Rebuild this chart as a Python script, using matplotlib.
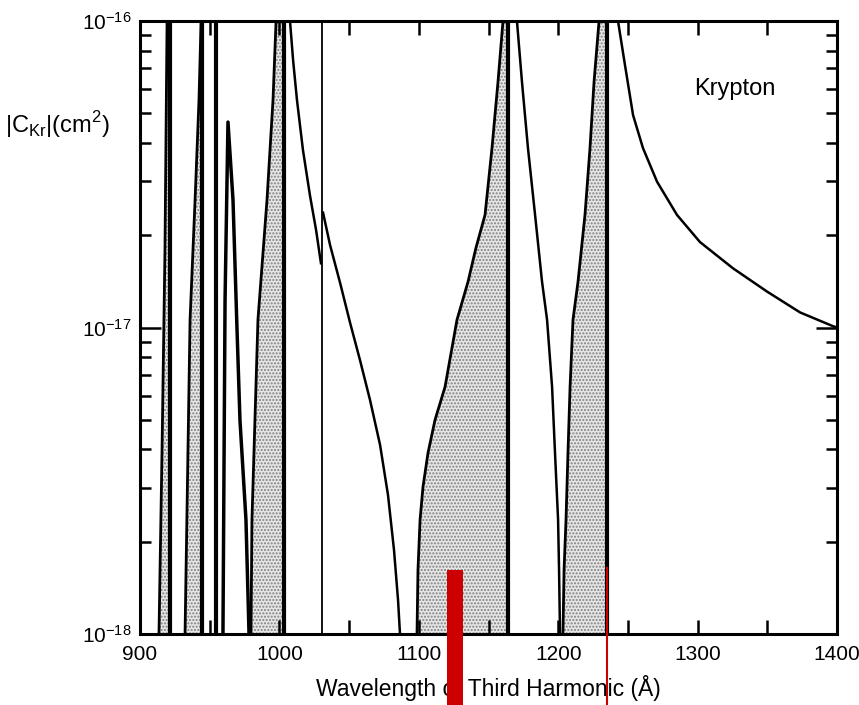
import matplotlib
matplotlib.use("Agg")
import matplotlib.pyplot as plt
from matplotlib.ticker import LogLocator, MultipleLocator, NullFormatter
import matplotlib.transforms as mtransforms

plt.rcParams['font.family'] = ['Liberation Sans', 'DejaVu Sans']
plt.rcParams['mathtext.fontset'] = 'custom'
plt.rcParams['mathtext.rm'] = 'Liberation Sans'

# rising edges of the shaded (negative) bands: wavelength (A), |C| (cm^2)
band1_wl = [913.6, 915.8, 917.9, 919.4]
band1_c = [1.0e-18, 3.98e-18, 1.79e-17, 1.0e-16]
band1_edge = 921.5

band2_wl = [932.3, 935.9, 939.5, 942.3, 943.8]
band2_c = [1.0e-18, 1.06e-17, 2.61e-17, 5.52e-17, 1.0e-16]
band2_edge = 944.5

band3_wl = [979.6, 980.3, 984.6, 991.1, 995.4, 997.6]
band3_c = [1.0e-18, 2.36e-18, 1.06e-17, 2.61e-17, 5.52e-17, 1.0e-16]
band3_edge = 1003.3

band4_wl = [1098.7, 1099.4, 1100.9, 1103.0, 1106.6, 1111.6, 1118.8, 1127.4, 1135.3, 1141.0,
            1147.5, 1152.5, 1156.8, 1160.4]
band4_c = [1.0e-18, 1.62e-18, 2.36e-18, 3.02e-18, 3.90e-18, 4.99e-18, 6.40e-18, 1.06e-17,
           1.41e-17, 1.82e-17, 2.33e-17, 3.85e-17, 6.33e-17, 1.0e-16]
band4_edge = 1164.0

band5_wl = [1203.4, 1204.2, 1205.6, 1207.0, 1208.5, 1210.6, 1214.2, 1219.2, 1222.8, 1225.7, 1229.3]
band5_c = [1.0e-18, 1.62e-18, 2.36e-18, 3.90e-18, 6.40e-18, 1.06e-17, 1.41e-17, 2.33e-17,
           3.85e-17, 6.33e-17, 1.0e-16]
band5_edge = 1235.0

# unshaded branches
spike_wl = [959.5, 961.0, 963.1, 966.7, 969.6, 971.7, 976.0, 978.2]
spike_c = [1.0e-18, 1.23e-17, 4.68e-17, 2.61e-17, 9.8e-18, 4.99e-18, 2.36e-18, 1.0e-18]

tail1_wl = [1007.6, 1009.8, 1012.6, 1016.9, 1021.9, 1026.3, 1029.8]
tail1_c = [1.0e-16, 7.46e-17, 5.52e-17, 3.79e-17, 2.70e-17, 2.08e-17, 1.62e-17]

tail2_wl = [1031.3, 1036.3, 1043.5, 1050.6, 1057.8, 1065.0, 1072.2, 1077.9, 1082.2, 1085.1, 1086.5]
tail2_c = [2.37e-17, 1.86e-17, 1.40e-17, 1.04e-17, 7.83e-18, 5.80e-18, 4.14e-18, 2.84e-18,
           1.88e-18, 1.29e-18, 1.0e-18]

tail3_wl = [1170.4, 1174.0, 1178.3, 1183.4, 1188.4, 1192.0, 1195.6, 1197.7, 1199.9, 1200.6, 1201.3]
tail3_c = [1.0e-16, 6.33e-17, 3.85e-17, 2.33e-17, 1.41e-17, 1.06e-17, 6.40e-18, 3.90e-18,
           2.36e-18, 1.62e-18, 1.0e-18]

tail4_wl = [1242.9, 1247.9, 1253.7, 1260.8, 1270.9, 1285.2, 1301.7, 1325.4, 1349.8, 1373.5,
            1397.1, 1400.0]
tail4_c = [1.0e-16, 7.18e-17, 4.93e-17, 3.85e-17, 2.99e-17, 2.33e-17, 1.90e-17, 1.56e-17,
           1.31e-17, 1.12e-17, 1.01e-17, 1.0e-17]

# resonance positions drawn as full-height lines
resonances = [921.5, 944.5, 954.5, 1003.3, 1164.0, 1235.0]
weak_resonance = 1030.6

fig = plt.figure(figsize=(8.59, 7.05), dpi=100)
ax = fig.add_axes([0.163, 0.1007, 0.8114, 0.8695])
ax.set_yscale('log')
ax.set_xlim(900, 1400)
ax.set_ylim(1e-18, 1e-16)

bands = [(band1_wl, band1_c, band1_edge), (band2_wl, band2_c, band2_edge),
         (band3_wl, band3_c, band3_edge), (band4_wl, band4_c, band4_edge),
         (band5_wl, band5_c, band5_edge)]
for wl, c, edge in bands:
    ax.fill_betweenx(c, wl, edge, facecolor='#e6e6e6', edgecolor='#808080',
                     hatch='.....', linewidth=0)
    ax.plot(wl, c, color='black', lw=2.0)

for r in resonances:
    ax.axvline(r, color='black', lw=3.0)
ax.axvline(weak_resonance, color='black', lw=1.3)

ax.plot(spike_wl, spike_c, color='black', lw=2.5)
for wl, c in [(tail1_wl, tail1_c), (tail2_wl, tail2_c), (tail3_wl, tail3_c), (tail4_wl, tail4_c)]:
    ax.plot(wl, c, color='black', lw=1.8)

ax.text(1327, 6.0e-17, 'Krypton', fontsize=17, ha='center', va='center')

ax.xaxis.set_major_locator(MultipleLocator(100))
ax.xaxis.set_minor_locator(MultipleLocator(50))
ax.set_yticks([1e-18, 1e-17, 1e-16])
ax.yaxis.set_minor_locator(LogLocator(base=10, subs=range(2, 10)))
ax.yaxis.set_minor_formatter(NullFormatter())
ax.tick_params(which='both', direction='in', top=True, right=True, width=1.8,
               labelsize=15, colors='black')
ax.tick_params(axis='x', which='both', length=10, pad=8)
ax.tick_params(axis='y', which='major', length=15, pad=6)
ax.tick_params(axis='y', which='minor', length=8)
for s in ax.spines.values():
    s.set_linewidth(2.2)

ax.set_xlabel('Wavelength of Third Harmonic (Å)', fontsize=16.5, labelpad=8)
fig.text(0.006, 0.823, r'$|\mathrm{C}_{\mathrm{Kr}}|$(cm$^2$)', fontsize=17, ha='left', va='center')

# red overlay marks below the plot
trans = mtransforms.blended_transform_factory(ax.transData, ax.transAxes)
ax.fill_between([1120.2, 1131.7], -0.116, 0.104, color='#cc0000', transform=trans,
                clip_on=False, zorder=5, linewidth=0)
ax.plot([1235.0, 1235.0], [-0.116, 0.107], color='#cc0000', lw=1.5, transform=trans,
        clip_on=False, zorder=5)

fig.savefig('out.png', dpi=100)
